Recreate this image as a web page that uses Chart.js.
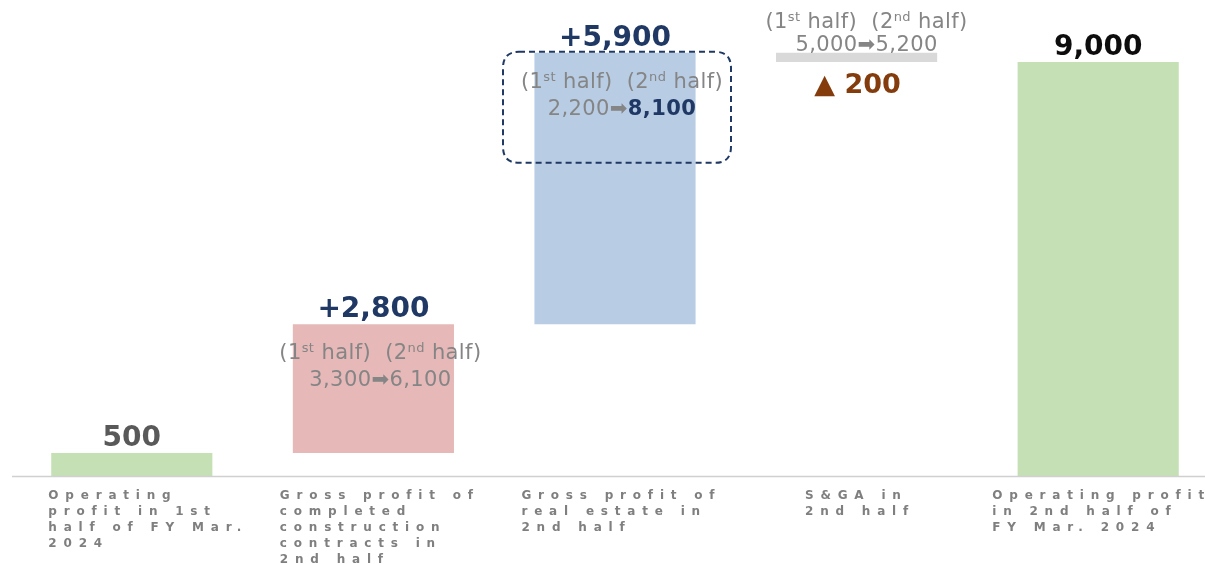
<!DOCTYPE html>
<html><head><meta charset="utf-8">
<script src="https://cdn.jsdelivr.net/npm/chart.js@4.4.0/dist/chart.umd.min.js"></script>
<style>
html,body{margin:0;padding:0;background:#fff;overflow:hidden;width:1205px;height:564px;}
#wrap{position:relative;width:1220px;height:564px;}
canvas{display:block;}
</style></head><body>
<div id="wrap"><canvas id="c" width="1220" height="564"></canvas></div>
<script>
// ---- data ----
const categories = [
  ["Operating", "profit in 1st", "half of FY Mar.", "2024"],
  ["Gross profit of", "completed", "construction", "contracts in", "2nd half"],
  ["Gross profit of", "real estate in", "2nd half"],
  ["S&GA in", "2nd half"],
  ["Operating profit", "in 2nd half of", "FY Mar. 2024"]
];
const barStart = [0, 500, 3300, 9000, 0];
const barEnd   = [500, 3300, 9200, 9200, 9000];
const headLabels = ["500", "+2,800", "+5,900", "▲ 200", "9,000"];
const firstHalf  = [null, "3,300", "2,200", "5,000", null];
const secondHalf = [null, "6,100", "8,100", "5,200", null];

// ---- styles ----
const barColors = ["#c5e0b4", "#e6b9b8", "#b8cce4", "#d9d9d9", "#c5e0b4"];
const headColors = ["#595959", "#1f3864", "#1f3864", "#843c0c", "#0d0d0d"];
const GRAY = "#858585";
const NAVY = "#1f3864";
const FONT = "'DejaVu Sans', Verdana, sans-serif";

function drawRich(ctx, segs, cx, baseY, spacing) {
  ctx.letterSpacing = (spacing || 0) + "px";
  let w = 0;
  segs.forEach(s => { ctx.font = s.font; s.w = ctx.measureText(s.t).width; w += s.w; });
  let x = cx - w / 2;
  ctx.textAlign = "left";
  ctx.textBaseline = "alphabetic";
  segs.forEach(s => {
    ctx.font = s.font; ctx.fillStyle = s.color;
    ctx.fillText(s.t, x, baseY + (s.dy || 0));
    x += s.w;
  });
  ctx.letterSpacing = "0px";
}
function halfHeader(ctx, cx, baseY) {
  const n = "21px " + FONT, sup = "13px " + FONT;
  drawRich(ctx, [
    {t: "(1", font: n, color: GRAY},
    {t: "st", font: sup, color: GRAY, dy: -7},
    {t: " half)  (2", font: n, color: GRAY},
    {t: "nd", font: sup, color: GRAY, dy: -7},
    {t: " half)", font: n, color: GRAY}
  ], cx, baseY, 0.4);
}
function halfValues(ctx, i, cx, baseY) {
  const n = "21px " + FONT;
  const second = i === 2
    ? {t: secondHalf[i], font: "bold 21px " + FONT, color: NAVY}
    : {t: secondHalf[i], font: n, color: GRAY};
  drawRich(ctx, [
    {t: firstHalf[i], font: n, color: GRAY},
    {t: "➡", font: n, color: GRAY},
    second
  ], cx, baseY, 0.4);
}
function roundRect(ctx, x, y, w, h, r) {
  ctx.beginPath();
  ctx.moveTo(x + r, y);
  ctx.lineTo(x + w - r, y); ctx.quadraticCurveTo(x + w, y, x + w, y + r);
  ctx.lineTo(x + w, y + h - r); ctx.quadraticCurveTo(x + w, y + h, x + w - r, y + h);
  ctx.lineTo(x + r, y + h); ctx.quadraticCurveTo(x, y + h, x, y + h - r);
  ctx.lineTo(x, y + r); ctx.quadraticCurveTo(x, y, x + r, y);
  ctx.closePath();
}

const annot = {
  id: "annot",
  afterDatasetsDraw(chart) {
    const ctx = chart.ctx, xs = chart.scales.x, ys = chart.scales.y;
    ctx.save();
    // axis line
    const y0 = ys.getPixelForValue(0);
    ctx.strokeStyle = "#d0d0d0"; ctx.lineWidth = 1.5;
    ctx.beginPath(); ctx.moveTo(12, y0 + 0.5); ctx.lineTo(chart.width, y0 + 0.5); ctx.stroke();

    // category labels (letter-spaced)
    const LS = 6.8;
    ctx.font = "bold 12px " + FONT;
    ctx.letterSpacing = LS + "px";
    ctx.fillStyle = "#7f7f7f";
    ctx.textAlign = "left"; ctx.textBaseline = "alphabetic";
    const nudge = [13, 3, 3, 0, 0];
    categories.forEach((lines, i) => {
      const cx = xs.getPixelForValue(i);
      let mw = 0;
      lines.forEach(l => { mw = Math.max(mw, ctx.measureText(l).width - LS); });
      const left = cx - mw / 2 + nudge[i];
      lines.forEach((l, k) => ctx.fillText(l, left, y0 + 23 + k * 16.1));
    });
    ctx.letterSpacing = "0px";

    // head labels
    barStart.forEach((s, i) => {
      const cx = xs.getPixelForValue(i);
      const top = ys.getPixelForValue(Math.max(s, barEnd[i]));
      ctx.textAlign = "center"; ctx.textBaseline = "alphabetic";
      ctx.fillStyle = headColors[i];
      if (i === 3) {
        ctx.font = "bold 27px " + FONT;
        ctx.fillText(headLabels[i], cx + 1, ys.getPixelForValue(s) + 31);
      } else {
        ctx.font = "bold 28px " + FONT;
        ctx.fillText(headLabels[i], cx, top - 7);
      }
    });

    // half-year breakdowns
    [1, 2].forEach(i => {
      const cx = xs.getPixelForValue(i) + 7;
      const top = ys.getPixelForValue(barEnd[i]);
      halfHeader(ctx, cx, top + 35);
      halfValues(ctx, i, cx, top + 62);
    });
    {
      const i = 3, cx = xs.getPixelForValue(i) + 10;
      const top = ys.getPixelForValue(barEnd[i]);
      halfHeader(ctx, cx, top - 25);
      halfValues(ctx, i, cx, top - 2);
    }

    // dashed highlight box round bar 3 breakdown
    {
      const cx = xs.getPixelForValue(2) + 2;
      const top = ys.getPixelForValue(barEnd[2]);
      ctx.setLineDash([6, 4]);
      ctx.strokeStyle = NAVY; ctx.lineWidth = 2;
      roundRect(ctx, cx - 114, top - 1, 228, 111, 16);
      ctx.stroke();
      ctx.setLineDash([]);
    }
    ctx.restore();
  }
};

new Chart(document.getElementById("c").getContext("2d"), {
  type: "bar",
  data: {
    labels: categories,
    datasets: [{
      data: barStart.map((s, i) => [s, barEnd[i]]),
      backgroundColor: barColors,
      borderWidth: 0,
      borderSkipped: false,
      categoryPercentage: 1,
      barPercentage: 0.667
    }]
  },
  options: {
    responsive: false,
    animation: false,
    devicePixelRatio: 1,
    layout: {padding: {left: 11, right: 1, top: 0, bottom: 88}},
    plugins: {legend: {display: false}, tooltip: {enabled: false}},
    scales: {
      x: {display: false},
      y: {display: false, min: 0, max: 10348}
    }
  },
  plugins: [annot]
});
</script>
</body></html>
